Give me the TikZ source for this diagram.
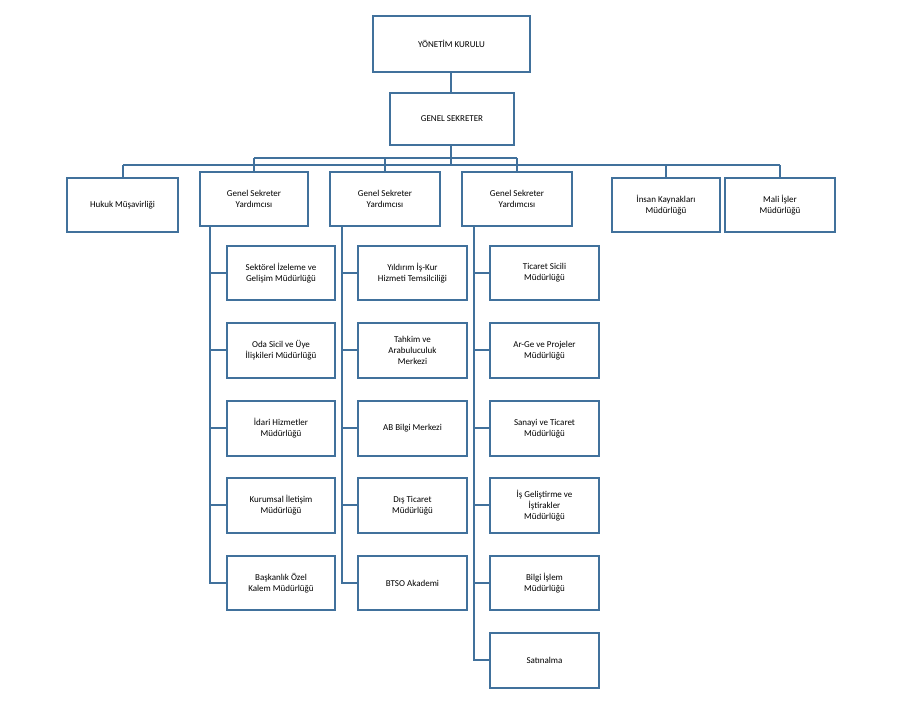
\documentclass[tikz,border=0pt]{standalone}
\usepackage{fontspec}
\setmainfont{Carlito}
\begin{document}
\begin{tikzpicture}[x=1pt,y=-1pt,
  bx/.style={draw=lb,line width=1.8pt,fill=white,inner sep=0pt,align=center,font=\fontsize{9}{11}\selectfont},
  ln/.style={draw=lb,line width=1.8pt}]
\definecolor{lb}{HTML}{41719C}
\useasboundingbox (0,0) rectangle (900,720);
\newcommand\bb[6]{\node[bx,minimum width=#4-#2,minimum height=#5-#3] (#1) at ({(#2+#4)/2},{(#3+#5)/2}) {#6};}
\coordinate (b1) at (123,165); \coordinate (b2) at (780,165);
\coordinate (c1) at (254,158); \coordinate (c2) at (517,158);
\coordinate (gs) at (451,165);
\draw[ln] (b1) -- (b2);
\draw[ln] (c1) -- (c2);
\draw[ln] (451,72) -- (451,165);
\draw[ln] (123,165) -- (123,178);
\draw[ln] (780,165) -- (780,178);
\draw[ln] (666,165) -- (666,178);
\draw[ln] (254,158) -- (254,172);
\draw[ln] (385,158) -- (385,172);
\draw[ln] (517,158) -- (517,172);
\draw[ln] (210,226) -- (210,583) -- (227,583);
\draw[ln] (342,226) -- (342,583) -- (358,583);
\draw[ln] (474,226) -- (474,660) -- (490,660);
\foreach \y in {273,350,428,505} {\draw[ln] (210,\y) -- (227,\y); \draw[ln] (342,\y) -- (358,\y);}
\foreach \y in {273,350,428,505,583} {\draw[ln] (474,\y) -- (490,\y);}
\bb{yk}{373}{16}{530}{72}{YÖNETİM KURULU}
\bb{gsk}{390}{93}{514}{145}{GENEL SEKRETER}
\bb{hk}{67}{178}{178}{232}{Hukuk Müşavirliği}
\bb{g1}{200}{172}{308}{226}{Genel Sekreter\\Yardımcısı}
\bb{g2}{330}{172}{440}{226}{Genel Sekreter\\Yardımcısı}
\bb{g3}{462}{172}{572}{226}{Genel Sekreter\\Yardımcısı}
\bb{ik}{612}{178}{720}{232}{İnsan Kaynakları\\Müdürlüğü}
\bb{mi}{725}{178}{835}{232}{Mali İşler\\Müdürlüğü}
\bb{a1}{227}{246}{335}{300}{Sektörel İzeleme ve\\Gelişim Müdürlüğü}
\bb{a2}{227}{323}{335}{378}{Oda Sicil ve Üye\\İlişkileri Müdürlüğü}
\bb{a3}{227}{401}{335}{456}{İdari Hizmetler\\Müdürlüğü}
\bb{a4}{227}{478}{335}{533}{Kurumsal İletişim\\Müdürlüğü}
\bb{a5}{227}{556}{335}{610}{Başkanlık Özel\\Kalem Müdürlüğü}
\bb{m1}{358}{246}{467}{300}{Yıldırım İş-Kur\\Hizmeti Temsilciliği}
\bb{m2}{358}{323}{467}{378}{Tahkim ve\\Arabuluculuk\\Merkezi}
\bb{m3}{358}{401}{467}{456}{AB Bilgi Merkezi}
\bb{m4}{358}{478}{467}{533}{Dış Ticaret\\Müdürlüğü}
\bb{m5}{358}{556}{467}{610}{BTSO Akademi}
\bb{r1}{490}{246}{599}{300}{Ticaret Sicili\\Müdürlüğü}
\bb{r2}{490}{323}{599}{378}{Ar-Ge ve Projeler\\Müdürlüğü}
\bb{r3}{490}{401}{599}{456}{Sanayi ve Ticaret\\Müdürlüğü}
\bb{r4}{490}{478}{599}{533}{İş Geliştirme ve\\İştirakler\\Müdürlüğü}
\bb{r5}{490}{556}{599}{610}{Bilgi İşlem\\Müdürlüğü}
\bb{r6}{490}{633}{599}{688}{Satınalma}
\end{tikzpicture}
\end{document}
